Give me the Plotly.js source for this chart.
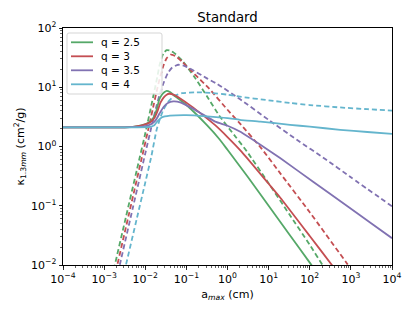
<!DOCTYPE html>
<html>
<head>
<meta charset="utf-8">
<script src="https://cdn.plot.ly/plotly-3.0.1.min.js"></script>
<style>html,body{margin:0;padding:0;background:#fff;}#plot{width:415px;height:311px;}</style>
</head>
<body>
<div id="plot"></div>
<script>
// Values, stored as log10(a_max [cm]) and log10(kappa [cm^2/g])
const seriesNames = ['q = 2.5', 'q = 3', 'q = 3.5', 'q = 4'];
const seriesColors = ['#55a868', '#c44e52', '#8172b2', '#64b5cd'];

// q = 2.5, solid
const logA_q25_solid = [-4, -3, -2.5, -2.3, -2.1, -1.95, -1.85, -1.78, -1.72, -1.66, -1.6, -1.53, -1.48, -1.4, -1.32, -1.0, -0.5, -0.18, 0, 0.5, 1.0, 1.5, 2.0, 2.3];
const logK_q25_solid = [0.322, 0.322, 0.324, 0.333, 0.355, 0.39, 0.44, 0.51, 0.63, 0.79, 0.87, 0.92, 0.94, 0.92, 0.873, 0.70, 0.36, 0.11, -0.056, -0.52, -1.0, -1.48, -1.96, -2.25];
// q = 3, solid
const logA_q3_solid = [-4, -3, -2.5, -2.3, -2.1, -1.95, -1.85, -1.77, -1.7, -1.63, -1.55, -1.48, -1.42, -1.3, -1.15, -0.9, -0.6, -0.3, 0.0, 0.346, 0.99, 1.279, 2.0, 2.538, 2.7];
const logK_q3_solid = [0.322, 0.322, 0.324, 0.332, 0.352, 0.385, 0.425, 0.49, 0.60, 0.74, 0.83, 0.875, 0.89, 0.87, 0.81, 0.69, 0.53, 0.36, 0.16, -0.09, -0.62, -0.86, -1.51, -2.0, -2.15];
// q = 3.5, solid
const logA_q35_solid = [-4, -3, -2.5, -2.2, -2.0, -1.85, -1.75, -1.65, -1.55, -1.45, -1.32, -1.15, -0.9, -0.67, -0.3, 0.0, 0.3, 0.8, 1.279, 2.09, 2.9, 3.5, 4.0];
const logK_q35_solid = [0.322, 0.322, 0.323, 0.33, 0.345, 0.38, 0.44, 0.56, 0.67, 0.735, 0.76, 0.745, 0.66, 0.57, 0.42, 0.35, 0.253, 0.03, -0.196, -0.598, -1.0, -1.30, -1.547];
// q = 4, solid
const logA_q4_solid = [-4, -3, -2.2, -1.9, -1.78, -1.7, -1.6, -1.4, -1.0, -0.5, 0.0, 0.3, 0.8, 1.52, 2.0, 2.74, 3.4, 4.0];
const logK_q4_solid = [0.322, 0.322, 0.322, 0.33, 0.36, 0.43, 0.49, 0.52, 0.53, 0.51, 0.48, 0.45, 0.42, 0.366, 0.335, 0.282, 0.245, 0.214];

// q = 2.5, dashed
const logA_q25_dash = [-2.85, -2.74, -2.5, -2.2, -2.0, -1.85, -1.75, -1.7, -1.65, -1.6, -1.55, -1.48, -1.4, -1.3, -1.1, -0.8, -0.5, -0.2, 0.2, 0.468, 0.99, 1.5, 2.0, 2.31, 2.45];
const logK_q25_dash = [-2.34, -2.0, -1.28, -0.38, 0.22, 0.70, 1.03, 1.2, 1.38, 1.5, 1.58, 1.625, 1.62, 1.58, 1.45, 1.17, 0.85, 0.52, 0.16, -0.08, -0.61, -1.14, -1.66, -2.0, -2.15];
// q = 3, dashed
const logA_q3_dash = [-2.8, -2.68, -2.4, -2.1, -1.9, -1.79, -1.7, -1.62, -1.55, -1.48, -1.38, -1.25, -1.1, -0.8, -0.45, 0.0, 0.3, 0.833, 1.279, 2.0, 2.9, 3.05];
const logK_q3_dash = [-2.37, -2.0, -1.15, -0.24, 0.37, 0.72, 1.0, 1.22, 1.38, 1.49, 1.55, 1.52, 1.43, 1.22, 0.98, 0.62, 0.39, -0.04, -0.449, -1.11, -1.97, -2.12];
// q = 3.5, dashed
const logA_q35_dash = [-2.75, -2.62, -2.3, -2.0, -1.82, -1.72, -1.65, -1.55, -1.45, -1.35, -1.2, -1.05, -0.87, -0.5, -0.26, 0.3, 1.0, 1.686, 2.375, 3.0, 4.0];
const logK_q35_dash = [-2.39, -2.0, -1.03, -0.12, 0.42, 0.70, 0.88, 1.08, 1.24, 1.33, 1.38, 1.36, 1.30, 1.15, 1.06, 0.80, 0.45, 0.113, -0.21, -0.52, -1.01];
// q = 4, dashed
const logA_q4_dash = [-2.6, -2.47, -2.2, -2.0, -1.85, -1.725, -1.65, -1.56, -1.45, -1.3, -1.1, -0.75, -0.4, 0.0, 0.3, 1.0, 1.52, 2.0, 2.74, 3.4, 4.0];
const logK_q4_dash = [-2.38, -2.0, -1.2, -0.61, -0.16, 0.28, 0.45, 0.62, 0.75, 0.85, 0.90, 0.915, 0.905, 0.875, 0.84, 0.78, 0.735, 0.70, 0.659, 0.63, 0.605];

const xTickVals = [1e-4, 1e-3, 1e-2, 1e-1, 1e0, 1e1, 1e2, 1e3, 1e4];
const xTickText = ['10<sup>−4</sup>', '10<sup>−3</sup>', '10<sup>−2</sup>', '10<sup>−1</sup>', '10<sup>0</sup>', '10<sup>1</sup>', '10<sup>2</sup>', '10<sup>3</sup>', '10<sup>4</sup>'];
const yTickVals = [1e-2, 1e-1, 1e0, 1e1, 1e2];
const yTickText = ['10<sup>−2</sup>', '10<sup>−1</sup>', '10<sup>0</sup>', '10<sup>1</sup>', '10<sup>2</sup>'];

const pow10 = arr => arr.map(v => Math.pow(10, v));

const solids = [
  [logA_q25_solid, logK_q25_solid],
  [logA_q3_solid, logK_q3_solid],
  [logA_q35_solid, logK_q35_solid],
  [logA_q4_solid, logK_q4_solid]
];
const dashes = [
  [logA_q25_dash, logK_q25_dash],
  [logA_q3_dash, logK_q3_dash],
  [logA_q35_dash, logK_q35_dash],
  [logA_q4_dash, logK_q4_dash]
];

const traces = [];
dashes.forEach((d, i) => {
  traces.push({
    x: pow10(d[0]), y: pow10(d[1]), mode: 'lines', showlegend: false,
    line: {color: seriesColors[i], width: 1.8, dash: '5px,3px', shape: 'spline', smoothing: 0.5},
    hoverinfo: 'skip'
  });
});
solids.forEach((d, i) => {
  traces.push({
    x: pow10(d[0]), y: pow10(d[1]), mode: 'lines', name: seriesNames[i], showlegend: false,
    line: {color: seriesColors[i], width: 1.8, shape: 'spline', smoothing: 0.5}
  });
});

// Matplotlib-style legend box (upper left), drawn in paper coordinates
const plotL = 63, plotW = 329, plotT = 28, plotH = 237;
const px2x = px => (px - plotL) / plotW;
const py2y = py => (plotT + plotH - py) / plotH;
const legL = 67, legR = 162, legT = 33, legB = 94, rad = 2;
const shapes = [{
  type: 'path', xref: 'paper', yref: 'paper', layer: 'above',
  path: `M ${px2x(legL + rad)} ${py2y(legT)} L ${px2x(legR - rad)} ${py2y(legT)} Q ${px2x(legR)} ${py2y(legT)} ${px2x(legR)} ${py2y(legT + rad)} ` +
        `L ${px2x(legR)} ${py2y(legB - rad)} Q ${px2x(legR)} ${py2y(legB)} ${px2x(legR - rad)} ${py2y(legB)} ` +
        `L ${px2x(legL + rad)} ${py2y(legB)} Q ${px2x(legL)} ${py2y(legB)} ${px2x(legL)} ${py2y(legB - rad)} ` +
        `L ${px2x(legL)} ${py2y(legT + rad)} Q ${px2x(legL)} ${py2y(legT)} ${px2x(legL + rad)} ${py2y(legT)} Z`,
  fillcolor: 'rgba(255,255,255,0.85)', line: {color: '#d5d5d5', width: 1}
}];
const annotations = [];
seriesNames.forEach((name, i) => {
  const rowY = 42.3 + i * 14;
  shapes.push({type: 'line', xref: 'paper', yref: 'paper', layer: 'above',
    x0: px2x(71), x1: px2x(93), y0: py2y(rowY), y1: py2y(rowY),
    line: {color: seriesColors[i], width: 1.8}});
  annotations.push({xref: 'paper', yref: 'paper', x: px2x(99), y: py2y(rowY), xanchor: 'left', yanchor: 'middle',
    text: name, showarrow: false, font: {size: 10.5, color: 'black'}});
});

const axisCommon = {
  type: 'log', showline: true, mirror: true, linecolor: 'black', linewidth: 1,
  ticks: 'outside', ticklen: 3.5, tickwidth: 0.8, tickcolor: 'black',
  showgrid: false, zeroline: false, tickmode: 'array',
  tickfont: {size: 11, color: 'black'},
  minor: {ticks: 'outside', ticklen: 2, tickwidth: 0.6, tickcolor: 'black', showgrid: false, dtick: 'D1'}
};

const layout = {
  width: 415, height: 311,
  margin: {l: plotL, r: 415 - plotL - plotW, t: plotT, b: 311 - plotT - plotH},
  paper_bgcolor: 'white', plot_bgcolor: 'white',
  font: {family: 'DejaVu Sans', size: 11, color: 'black'},
  title: {text: 'Standard', font: {size: 13.3, color: 'black'}, x: 0.5, xref: 'paper', xanchor: 'center', y: 1 - 17 / 311, yref: 'container', yanchor: 'middle'},
  xaxis: Object.assign({}, axisCommon, {
    range: [-4, 4], tickvals: xTickVals, ticktext: xTickText,
    title: {text: 'a<sub><i>max</i></sub> (cm)', standoff: 5, font: {size: 11}}
  }),
  yaxis: Object.assign({}, axisCommon, {
    range: [-2, 2], tickvals: yTickVals, ticktext: yTickText,
    title: {text: 'κ<sub>1.3<i>mm</i></sub> (cm<sup>2</sup>/g)', standoff: 4, font: {size: 11}}
  }),
  showlegend: false,
  shapes: shapes,
  annotations: annotations
};

Plotly.newPlot('plot', traces, layout, {displayModeBar: false, staticPlot: true});
</script>
</body>
</html>
